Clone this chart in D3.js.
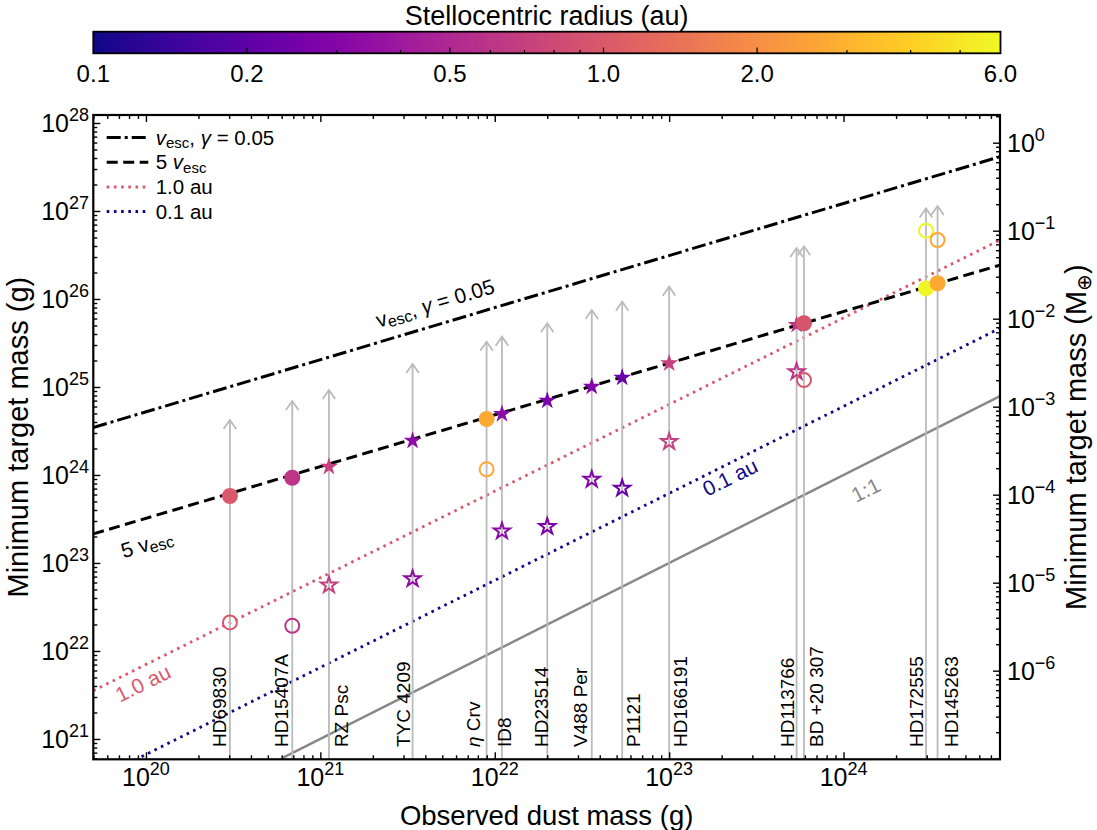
<!DOCTYPE html>
<html>
<head>
<meta charset="utf-8">
<script src="https://cdn.jsdelivr.net/npm/d3@7"></script>
<style>
body { margin: 0; background: #fff; }
text { font-family: "Liberation Sans", Arial, sans-serif; }
</style>
</head>
<body>
<script>
// systems, dust mass (g), minimum target mass (g) and radius (au)
var names = ["HD69830", "HD15407A", "RZ Psc", "TYC 4209", "\u03b7 Crv", "ID8", "HD23514",
             "V488 Per", "P1121", "HD166191", "HD113766", "BD +20 307", "HD172555", "HD145263"];
var dustMass = [3.03e20, 6.9e20, 1.12e21, 3.38e21, 8.98e21, 1.1e22, 2.0e22,
                3.6e22, 5.38e22, 1.0e23, 5.38e23, 5.93e23, 2.97e24, 3.46e24];
var target5v = [5.77e23, 9.31e23, 1.24e24, 2.45e24, 4.33e24, 4.93e24, 6.98e24,
                1.01e25, 1.28e25, 1.86e25, 5.07e25, 5.3e25, 1.32e26, 1.51e26];
var targetOpen = [2.11e22, 1.93e22, 5.6e22, 6.6e22, 1.16e24, 2.3e23, 2.59e23,
                  8.9e23, 7.06e23, 2.39e24, 1.49e25, 1.2e25, 5.97e26, 4.68e26];
var arrowTop = [4.22e24, 6.93e24, 9.25e24, 1.82e25, 3.27e25, 3.73e25, 5.3e25,
                7.5e25, 9.33e25, 1.38e26, 3.8e26, 3.98e26, 1.07e27, 1.14e27];
var radius = [1.0, 0.6, 0.7, 0.34, 2.7, 0.33, 0.27, 0.3, 0.22, 0.7, 0.6, 0.95, 5.8, 2.7];
var marker = ["circle", "circle", "star", "star", "circle", "star", "star",
              "star", "star", "star", "star", "circle", "circle", "circle"];

// model lines, end points [dust mass, target mass]
var lineVesc = [[4.99e19, 3.46e24], [7.89e24, 4.14e27]];
var line5Vesc = [[4.99e19, 2.14e23], [7.89e24, 2.43e26]];
var line1au = [[4.99e19, 3.54e21], [7.89e24, 4.68e26]];
var line01au = [[9.44e19, 6.30e20], [7.89e24, 4.65e25]];
var lineOne = [[6.08e20, 6.08e20], [7.89e24, 7.89e24]];

var cbTicks = [0.1, 0.2, 0.5, 1.0, 2.0, 6.0];
var cbMinor = [0.3, 0.4, 0.6, 0.7, 0.8, 0.9, 3, 4, 5];
var M_EARTH = 5.972e27;

var W = 1097, H = 830;
var pL = 93.3, pR = 1000, pT = 115, pB = 759.3;

var svg = d3.select("body").append("svg")
    .attr("width", W)
    .attr("height", H);

var x = d3.scaleLog().domain([4.99e19, 7.89e24]).range([pL, pR]);
var y = d3.scaleLog().domain([5.875e20, 1.233e28]).range([pB, pT]);
var yE = d3.scaleLog().domain([5.875e20 / M_EARTH, 1.233e28 / M_EARTH]).range([pB, pT]);
var color = d3.scaleSequentialLog(d3.interpolatePlasma).domain([0.1, 6.0]);

var red = color(1.0), navy = color(0.1);

// ---- colorbar
var cb = d3.scaleLog().domain([0.1, 6.0]).range([93.3, 1000.5]);
var defs = svg.append("defs");
var grad = defs.append("linearGradient").attr("id", "cbgrad");
d3.range(0, 1.001, 0.02).forEach(function(t) {
    grad.append("stop").attr("offset", t).attr("stop-color", d3.interpolatePlasma(t));
});
svg.append("rect")
    .attr("x", cb.range()[0]).attr("y", 31.7)
    .attr("width", cb.range()[1] - cb.range()[0]).attr("height", 21.6)
    .attr("fill", "url(#cbgrad)")
    .attr("stroke", "#000").attr("stroke-width", 1.8);
svg.append("g").selectAll("line").data(cbTicks.slice(1, -1).concat(cbMinor)).join("line")
    .attr("x1", d => cb(d)).attr("x2", d => cb(d))
    .attr("y1", 53.3).attr("y2", d => cbTicks.indexOf(d) >= 0 ? 47.5 : 50)
    .attr("stroke", "#000").attr("stroke-width", 1.2);
svg.append("g").selectAll("text").data(cbTicks).join("text")
    .attr("x", d => cb(d)).attr("y", 82)
    .attr("text-anchor", "middle").attr("font-size", 24)
    .text(d => d.toFixed(1));
svg.append("text")
    .attr("x", (pL + pR) / 2).attr("y", 24.5)
    .attr("text-anchor", "middle").attr("font-size", 27)
    .text("Stellocentric radius (au)");

// ---- clip
defs.append("clipPath").attr("id", "plotclip")
    .append("rect").attr("x", pL).attr("y", pT)
    .attr("width", pR - pL).attr("height", pB - pT);
var plot = svg.append("g").attr("clip-path", "url(#plotclip)");

// ---- model lines
var line = d3.line().x(d => x(d[0])).y(d => y(d[1]));
function drawLine(pts, stroke, width, dash) {
    plot.append("path").attr("d", line(pts))
        .attr("fill", "none").attr("stroke", stroke)
        .attr("stroke-width", width).attr("stroke-dasharray", dash);
}
drawLine(lineOne, "#888", 2.5, null);
drawLine(line01au, navy, 2.8, "2.6,4.6");
drawLine(line1au, red, 2.8, "2.6,4.6");
drawLine(lineVesc, "#000", 3, "14,4,3,4");
drawLine(line5Vesc, "#000", 3, "11,5.5");

// ---- arrows
var arrows = plot.append("g").attr("stroke", "#bbb").attr("stroke-width", 1.8).attr("fill", "none");
names.forEach(function(n, i) {
    var ax = x(dustMass[i]), ay = y(arrowTop[i]);
    arrows.append("line").attr("x1", ax).attr("x2", ax).attr("y1", pB).attr("y2", ay);
    arrows.append("path").attr("d", "M" + (ax - 6.3) + "," + (ay + 9) + "L" + ax + "," + ay + "L" + (ax + 6.3) + "," + (ay + 9));
});

// ---- markers
var star = d3.symbol().type(d3.symbolStar);
function drawMarker(i, val, filled) {
    var px = x(dustMass[i]), py = y(val), c = color(radius[i]);
    var m;
    if (marker[i] == "circle") {
        m = plot.append("circle").attr("cx", px).attr("cy", py).attr("r", filled ? 8 : 7);
    } else {
        m = plot.append("path").attr("d", star.size(filled ? 100 : 80)())
            .attr("transform", "translate(" + px + "," + py + ")");
    }
    if (filled) m.attr("fill", c);
    else m.attr("fill", "none").attr("stroke", c).attr("stroke-width", 2);
}
names.forEach(function(n, i) { drawMarker(i, targetOpen[i], false); });
names.forEach(function(n, i) { drawMarker(i, target5v[i], true); });

// ---- system names
var labelShift = [-4, -4, 19, -3, -7, 9, 1, -5, 18, 18, -3, 19, -3, 20];
svg.append("g").selectAll("text").data(names).join("text")
    .attr("transform", (d, i) => "translate(" + (x(dustMass[i]) + labelShift[i]) + ",747) rotate(-90)")
    .attr("font-size", 19)
    .each(function(d) {
        var t = d3.select(this);
        if (d.charAt(0) == "\u03b7") {
            t.append("tspan").attr("font-style", "italic").text(d.charAt(0));
            t.append("tspan").text(d.slice(1));
        } else {
            t.text(d);
        }
    });

// ---- line labels
function lineLabel(pts, at, off, fill, build) {
    var lx = Math.log10(at), x0 = Math.log10(pts[0][0]), x1 = Math.log10(pts[1][0]);
    var v0 = Math.log10(pts[0][1]), v1 = Math.log10(pts[1][1]);
    var lv = Math.pow(10, v0 + (lx - x0) * (v1 - v0) / (x1 - x0));
    var ang = Math.atan2(y(pts[1][1]) - y(pts[0][1]), x(pts[1][0]) - x(pts[0][0])) * 180 / Math.PI;
    var t = svg.append("text")
        .attr("transform", "translate(" + x(at) + "," + (y(lv) + off) + ") rotate(" + ang + ")")
        .attr("text-anchor", "middle").attr("dominant-baseline", "central")
        .attr("font-size", 21).attr("fill", fill);
    build(t);
}
lineLabel(lineVesc, 4.54e21, -23, "#000", function(t) {
    t.append("tspan").text("v");
    t.append("tspan").attr("font-size", 16).attr("dy", 5).text("esc");
    t.append("tspan").attr("dy", -5).text(", ");
    t.append("tspan").attr("font-style", "italic").text("\u03b3");
    t.append("tspan").text(" = 0.05");
});
lineLabel(line5Vesc, 1.01e20, 25, "#000", function(t) {
    t.append("tspan").text("5 v");
    t.append("tspan").attr("font-size", 16).attr("dy", 5).text("esc");
});
lineLabel(line1au, 9.6e19, 17, red, function(t) { t.text("1.0 au"); });
lineLabel(line01au, 2.23e23, 14, navy, function(t) { t.text("0.1 au"); });
lineLabel(lineOne, 1.34e24, 26, "#888", function(t) { t.text("1:1"); });

// ---- axes
function exponent(v) {
    var e = Math.round(Math.log10(v));
    return e < 0 ? "\u2212" + (-e) : "" + e;
}
function isMajor(v) { return Math.abs(Math.log10(v) - Math.round(Math.log10(v))) < 1e-6; }

function tickAxis(axisFn, scale, tx, ty) {
    var all = scale.ticks();
    [[all.filter(isMajor), 7], [all.filter(v => !isMajor(v)), 4]].forEach(function(s) {
        var g = svg.append("g").attr("transform", "translate(" + tx + "," + ty + ")")
            .call(axisFn(scale).tickValues(s[0]).tickSize(-s[1]).tickFormat(""));
        g.select(".domain").remove();
        g.selectAll("line").attr("stroke", "#000").attr("stroke-width", 1.4);
    });
}
tickAxis(d3.axisBottom, x, 0, pB);
tickAxis(d3.axisTop, x, 0, pT);
tickAxis(d3.axisLeft, y, pL, 0);
tickAxis(d3.axisRight, yE, pR, 0);

svg.append("rect")
    .attr("x", pL).attr("y", pT)
    .attr("width", pR - pL).attr("height", pB - pT)
    .attr("fill", "none").attr("stroke", "#000").attr("stroke-width", 2.2);

function powText(sel) {
    sel.append("tspan").text("10");
    sel.append("tspan").attr("dy", -11).attr("font-size", 18).text(d => exponent(d));
}
svg.append("g").selectAll("text").data(x.ticks().filter(isMajor)).join("text")
    .attr("x", d => x(d)).attr("y", 786)
    .attr("text-anchor", "middle").attr("font-size", 25)
    .call(powText);
svg.append("g").selectAll("text").data(y.ticks().filter(isMajor)).join("text")
    .attr("x", 89).attr("y", d => y(d) + 9)
    .attr("text-anchor", "end").attr("font-size", 25)
    .call(powText);
svg.append("g").selectAll("text")
    .data(yE.ticks().filter(isMajor).filter(d => yE(d) < pB - 10)).join("text")
    .attr("x", 1007).attr("y", d => yE(d) + 9)
    .attr("font-size", 25)
    .call(powText);

// ---- axis titles
svg.append("text")
    .attr("x", (pL + pR) / 2).attr("y", 825)
    .attr("text-anchor", "middle").attr("font-size", 27.5)
    .text("Observed dust mass (g)");
svg.append("text")
    .attr("transform", "translate(28," + (pT + pB) / 2 + ") rotate(-90)")
    .attr("text-anchor", "middle").attr("font-size", 29)
    .text("Minimum target mass (g)");
var rt = svg.append("text")
    .attr("transform", "translate(1086," + (pT + pB) / 2 + ") rotate(-90)")
    .attr("text-anchor", "middle").attr("font-size", 29);
rt.append("tspan").text("Minimum target mass (M");
rt.append("tspan").attr("font-size", 20).attr("dy", 5).text("\u2295");
rt.append("tspan").attr("dy", -5).text(")");

// ---- legend
var legend = svg.append("g");
var legendRows = [
    { dash: "14,4,3,4", stroke: "#000" },
    { dash: "11,5.5", stroke: "#000" },
    { dash: "2.6,4.6", stroke: red },
    { dash: "2.6,4.6", stroke: navy }
];
legendRows.forEach(function(r, i) {
    var ly = 137.5 + i * 24.7;
    legend.append("line").attr("x1", 106.7).attr("x2", 148.3).attr("y1", ly).attr("y2", ly)
        .attr("stroke", r.stroke).attr("stroke-width", 3).attr("stroke-dasharray", r.dash);
    var t = legend.append("text").attr("x", 155.7).attr("y", ly + 7).attr("font-size", 20.5);
    if (i == 0) {
        t.append("tspan").attr("font-style", "italic").text("v");
        t.append("tspan").attr("font-size", 15).attr("dy", 3.5).text("esc");
        t.append("tspan").attr("dy", -3.5).text(", ");
        t.append("tspan").attr("font-style", "italic").text("\u03b3");
        t.append("tspan").text(" = 0.05");
    } else if (i == 1) {
        t.append("tspan").text("5 ");
        t.append("tspan").attr("font-style", "italic").text("v");
        t.append("tspan").attr("font-size", 15).attr("dy", 3.5).text("esc");
    } else if (i == 2) {
        t.text("1.0 au");
    } else {
        t.text("0.1 au");
    }
});
</script>
</body>
</html>
